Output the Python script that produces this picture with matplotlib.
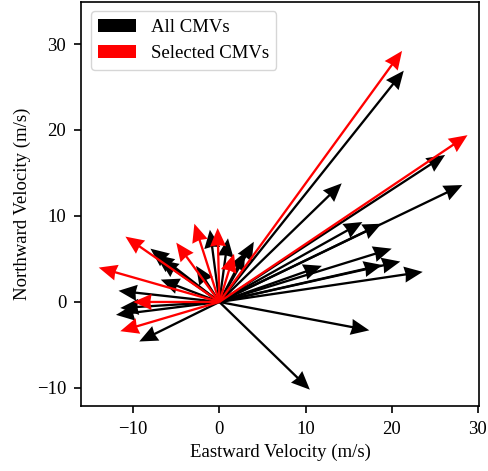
import numpy as np
import matplotlib
matplotlib.use("Agg")
import matplotlib.pyplot as plt

plt.rcParams['font.family'] = ['Liberation Serif', 'DejaVu Serif']
plt.rcParams['font.size'] = 13.5
plt.rcParams['axes.linewidth'] = 1.2
plt.rcParams['xtick.major.size'] = 5
plt.rcParams['ytick.major.size'] = 5
plt.rcParams['xtick.major.width'] = 1.2
plt.rcParams['ytick.major.width'] = 1.2
plt.rcParams['xtick.major.pad'] = 6
plt.rcParams['ytick.major.pad'] = 6

# --- cloud motion vectors (m/s) ---
all_u = [21.4, 26.2, 28.2, 14.2, 16.6, 18.8, 20.0, 21.0, 18.9, 23.6, 11.9,
         17.4, 10.5, -9.3, -11.7, -11.5, -12.0, -8.0, -7.4, -6.9, -6.8,
         -2.7, -1.1, 1.0, 4.0, 3.0]
all_v = [26.9, 17.1, 13.6, 13.8, 9.3, 9.1, 6.2, 4.7, 4.3, 3.5, 4.2,
         -3.3, -10.2, -4.6, 1.3, -0.7, -1.5, 6.2, 5.5, 4.9, 2.6,
         4.2, 8.4, 7.4, 7.0, 5.8]

sel_u = [21.2, 28.8, -14.0, -10.9, -2.9, -5.0, -0.2, 1.7, -10.0, -11.5]
sel_v = [29.2, 19.4, 4.0, 7.6, 9.1, 6.9, 8.6, 5.6, 0.0, -3.4]

fig = plt.figure(figsize=(4.88, 4.71), dpi=100)
ax = fig.add_axes([0.167, 0.138, 0.814, 0.858])

arrow_kw = dict(angles='xy', scale_units='xy', scale=1, width=0.0058,
                headwidth=7, headlength=8, headaxislength=7.5)
ax.quiver(np.zeros(len(all_u)), np.zeros(len(all_u)), all_u, all_v,
          color='black', label='All CMVs', **arrow_kw)
ax.quiver(np.zeros(len(sel_u)), np.zeros(len(sel_u)), sel_u, sel_v,
          color='red', label='Selected CMVs', **arrow_kw)

ax.set_xlim(-16, 30.1)
ax.set_ylim(-12.1, 34.9)
ax.set_xticks([-10, 0, 10, 20, 30])
ax.set_yticks([-10, 0, 10, 20, 30])
ax.set_xlabel('Eastward Velocity (m/s)')
ax.set_ylabel('Northward Velocity (m/s)')
ax.legend(loc='upper left')

fig.savefig('out.png', dpi=100)
